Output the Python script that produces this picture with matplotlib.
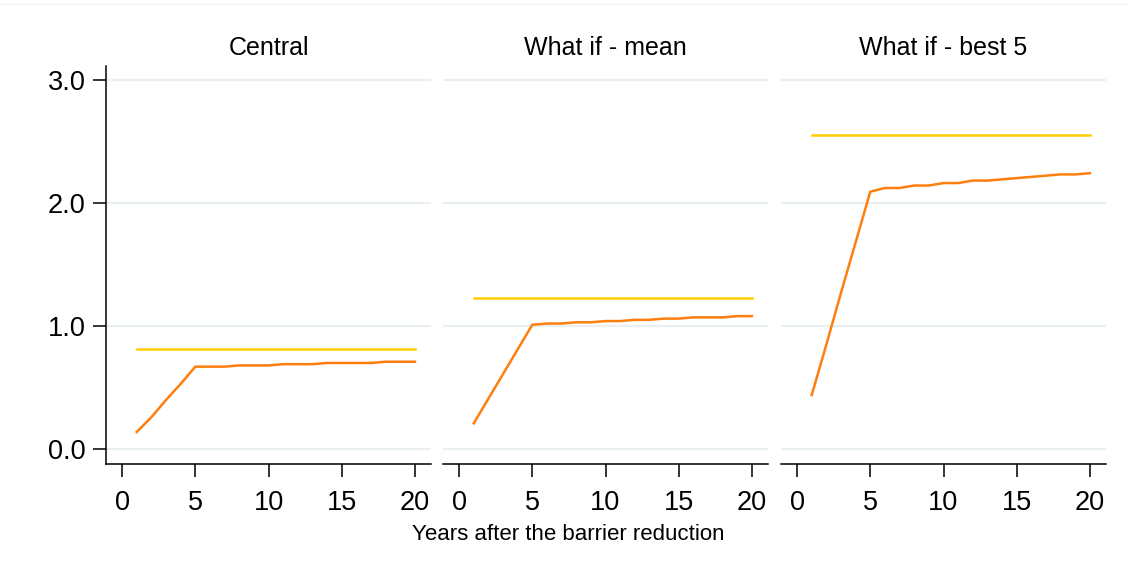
import matplotlib.pyplot as plt
import numpy as np

plt.rcParams['font.family'] = ['Liberation Sans', 'DejaVu Sans']

years = np.arange(1, 21)
titles = ['Central', 'What if - mean', 'What if - best 5']

# long run level (flat line) per panel
long_run = [0.81, 1.23, 2.55]

central = [0.14, 0.26, 0.40, 0.53, 0.67, 0.67, 0.67, 0.68, 0.68, 0.68,
           0.69, 0.69, 0.69, 0.70, 0.70, 0.70, 0.70, 0.71, 0.71, 0.71]
whatif_mean = [0.21, 0.41, 0.61, 0.81, 1.01, 1.02, 1.02, 1.03, 1.03, 1.04,
               1.04, 1.05, 1.05, 1.06, 1.06, 1.07, 1.07, 1.07, 1.08, 1.08]
whatif_best5 = [0.44, 0.85, 1.27, 1.68, 2.09, 2.12, 2.12, 2.14, 2.14, 2.16,
                2.16, 2.18, 2.18, 2.19, 2.20, 2.21, 2.22, 2.23, 2.23, 2.24]
series = [central, whatif_mean, whatif_best5]

orange = '#ff7f0e'
yellow = '#ffcf00'
gridc = '#eaf0f2'

fig = plt.figure(figsize=(11.29, 5.68), dpi=100)
lefts = [106, 443, 781]
width = 325
bottom = 1 - 464 / 568
height = (464 - 66) / 568

for i in range(3):
    ax = fig.add_axes([lefts[i] / 1129, bottom, width / 1129, height])
    ax.set_xlim(-1.1, 21.1)
    ax.set_ylim(-0.12, 3.11)
    ax.set_yticks([0, 1, 2, 3])
    ax.set_xticks([0, 5, 10, 15, 20])
    ax.grid(axis='y', color=gridc, linewidth=1.6)
    ax.set_axisbelow(True)
    ax.plot([years[0], years[-1]], [long_run[i], long_run[i]], color=yellow, lw=1.8)
    ax.plot(years, series[i], color=orange, lw=1.8)
    for s in ['top', 'right']:
        ax.spines[s].set_visible(False)
    ax.spines['bottom'].set_linewidth(1.1)
    ax.spines['left'].set_linewidth(1.1)
    ax.tick_params(axis='x', length=9.5, width=1.1, labelsize=19.5, pad=9)
    if i == 0:
        ax.set_yticklabels(['0.0', '1.0', '2.0', '3.0'])
        ax.tick_params(axis='y', length=9.5, width=1.1, labelsize=19.5, pad=5)
    else:
        ax.spines['left'].set_visible(False)
        ax.tick_params(axis='y', left=False, labelleft=False)
    ax.set_title(titles[i], fontsize=18, pad=8)

fig.text(568 / 1129, 1 - 535 / 568, 'Years after the barrier reduction',
         ha='center', va='center', fontsize=16)
fig.add_artist(plt.Line2D([0, 1], [1 - 4 / 568, 1 - 4 / 568], color='#f3f5ec', lw=1))

fig.savefig('out.png', dpi=100)
